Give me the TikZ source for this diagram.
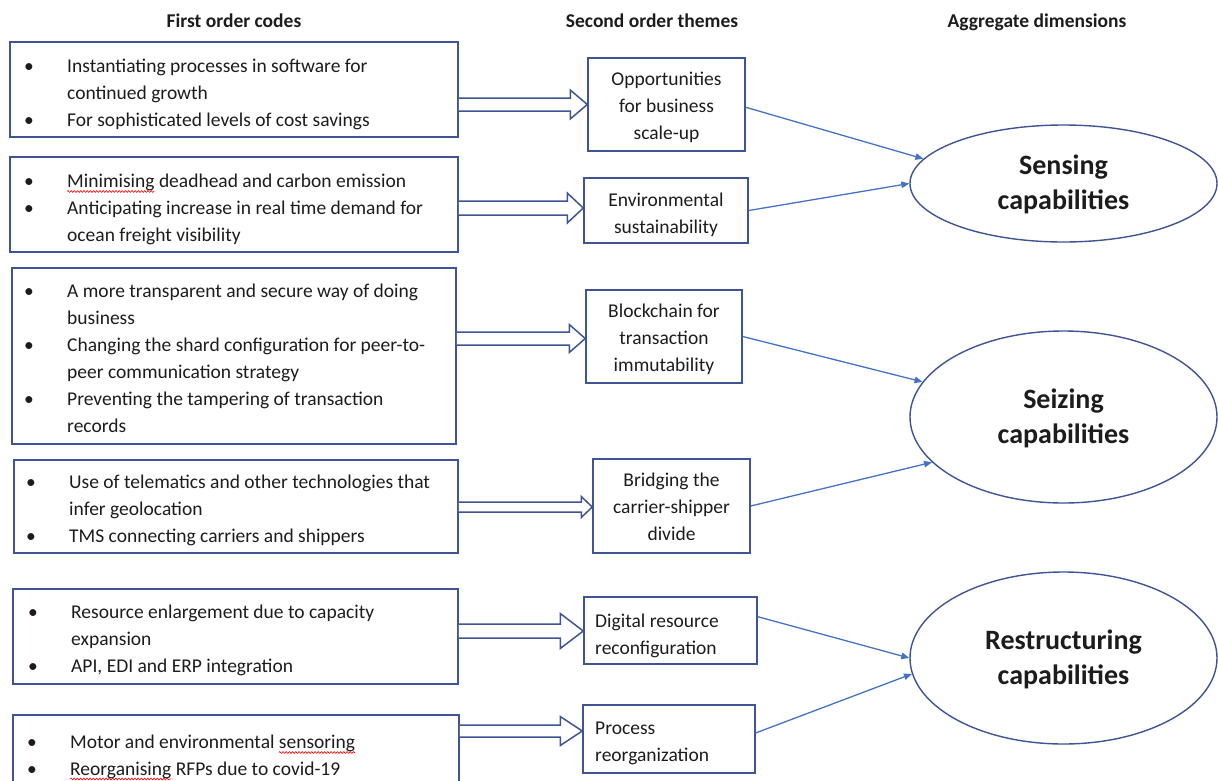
\documentclass[tikz,border=0pt]{standalone}
\usepackage{fontspec}
\setmainfont{Carlito}
\usetikzlibrary{shapes.geometric,calc,arrows.meta,decorations.pathmorphing}
\definecolor{boxc}{RGB}{62,84,150}
\definecolor{arrc}{RGB}{68,114,196}
\definecolor{txtc}{RGB}{28,28,28}
\newcommand\bodyfont{\fontsize{19.5}{27}\selectfont}
\newcommand\bul[1]{\makebox[43pt][l]{\textbullet}#1}
\newcommand\cont[1]{\hspace*{43pt}#1}
\newlength\wavea
\newlength\waveb
\newlength\wavec
\newlength\waved
\newcommand\hollow[6]{%
  \coordinate (#1#2y) at (0,#3);
  \coordinate (#1#2s) at (#1.east |- #1#2y);
  \coordinate (#1#2e) at (#2.west |- #1#2y);
  \draw[harrow] ($(#1#2s)+(0,-#4)$) -- ($(#1#2e)+(-#6,-#4)$) -- ($(#1#2e)+(-#6,-#5)$)
    -- (#1#2e) -- ($(#1#2e)+(-#6,#5)$) -- ($(#1#2e)+(-#6,#4)$) -- ($(#1#2s)+(0,#4)$);
}
\begin{document}
\settowidth{\wavea}{\bodyfont Minimising}
\settowidth{\waveb}{\bodyfont Motor and environmental\ }
\settowidth{\wavec}{\bodyfont sensoring}
\settowidth{\waved}{\bodyfont Reorganising}
\begin{tikzpicture}[x=1pt,y=-1pt,
  cbox/.style={draw=boxc,line width=1.5pt,rectangle,inner sep=0pt,fill=none},
  btext/.style={inner sep=0pt,font=\bodyfont,text=txtc},
  ttext/.style={inner sep=0pt,font=\bodyfont,text=txtc},
  htext/.style={inner sep=0pt,font=\fontsize{19.5}{24}\selectfont\bfseries,text=txtc},
  capell/.style={draw=boxc,line width=1.4pt,ellipse,inner sep=0pt,minimum width=307pt,
     font=\fontsize{28}{35}\selectfont\bfseries,text=txtc},
  harrow/.style={draw=boxc,line width=1.5pt,line join=miter,fill=white},
  conn/.style={draw=arrc,line width=1.3pt,-{Triangle[length=8pt,width=6.5pt]}},
  spell/.style={draw=red,line width=0.6pt,decorate,decoration={snake,amplitude=0.9pt,segment length=3.2pt}}
]
\useasboundingbox (0,0) rectangle (1218,780);

% headers
\node[htext,anchor=base] (h1) at (234,27) {First order codes};
\node[htext,anchor=base] (h2) at (652,27) {Second order themes};
\node[htext,anchor=base] (h3) at (1037,27) {Aggregate dimensions};

% first order boxes
\node[cbox,minimum width=448pt,minimum height=95pt] (b1) at (234,89.5) {};
\node[cbox,minimum width=448pt,minimum height=95pt] (b2) at (234,204.5) {};
\node[cbox,minimum width=444pt,minimum height=176pt] (b3) at (234,356) {};
\node[cbox,minimum width=444pt,minimum height=93pt] (b4) at (236,506.5) {};
\node[cbox,minimum width=445pt,minimum height=95pt] (b5) at (235.5,636.5) {};
\node[cbox,minimum width=446pt,minimum height=95pt] (b6) at (236,762.5) {};

\node[btext,anchor=base west] (b1t) at (24,72) {\parbox[t]{500pt}{\raggedright
  \bul{Instantiating processes in software for}\\
  \cont{continued growth}\\
  \bul{For sophisticated levels of cost savings}}};
\node[btext,anchor=base west] (b2t) at (24,187) {\parbox[t]{500pt}{\raggedright
  \bul{Minimising deadhead and carbon emission}\\
  \bul{Anticipating increase in real time demand for}\\
  \cont{ocean freight visibility}}};
\node[btext,anchor=base west] (b3t) at (24,297) {\parbox[t]{500pt}{\raggedright
  \bul{A more transparent and secure way of doing}\\
  \cont{business}\\
  \bul{Changing the shard configuration for peer-to-}\\
  \cont{peer communication strategy}\\
  \bul{Preventing the tampering of transaction}\\
  \cont{records}}};
\node[btext,anchor=base west] (b4t) at (26,488) {\parbox[t]{500pt}{\raggedright
  \bul{Use of telematics and other technologies that}\\
  \cont{infer geolocation}\\
  \bul{TMS connecting carriers and shippers}}};
\node[btext,anchor=base west] (b5t) at (28,618) {\parbox[t]{500pt}{\raggedright
  \bul{Resource enlargement due to capacity}\\
  \cont{expansion}\\
  \bul{API, EDI and ERP integration}}};
\node[btext,anchor=base west] (b6t) at (27,748) {\parbox[t]{500pt}{\raggedright
  \bul{Motor and environmental sensoring}\\
  \bul{Reorganising RFPs due to covid-19}}};

% spelling marks
\draw[spell] (67,191.5) -- ++(\wavea,0);
\draw[spell] ($(70,752.5)+(\waveb,0)$) -- ++(\wavec,0);
\draw[spell] (70,779) -- ++(\waved,0);

% second order themes
\node[cbox,minimum width=157pt,minimum height=93pt] (t1) at (666.5,104.5) {};
\node[cbox,minimum width=164pt,minimum height=65pt] (t2) at (666,210.5) {};
\node[cbox,minimum width=156pt,minimum height=93pt] (t3) at (664,336.5) {};
\node[cbox,minimum width=157pt,minimum height=94pt] (t4) at (671.5,506) {};
\node[cbox,minimum width=173pt,minimum height=67pt] (t5) at (670.5,630.5) {};
\node[cbox,minimum width=172pt,minimum height=68pt] (t6) at (669,739) {};

\node[ttext,anchor=base] (t1t) at (666.5,85) {\parbox[t]{170pt}{\centering Opportunities\\for business\\scale-up}};
\node[ttext,anchor=base] (t2t) at (666,206) {\parbox[t]{170pt}{\centering Environmental\\sustainability}};
\node[ttext,anchor=base] (t3t) at (664,317) {\parbox[t]{170pt}{\centering Blockchain for\\transaction\\immutability}};
\node[ttext,anchor=base] (t4t) at (671.5,486) {\parbox[t]{170pt}{\centering Bridging the\\carrier-shipper\\divide}};
\node[ttext,anchor=base west] (t5t) at (595,627) {\parbox[t]{170pt}{\raggedright Digital resource\\reconfiguration}};
\node[ttext,anchor=base west] (t6t) at (595,734) {\parbox[t]{170pt}{\raggedright Process\\reorganization}};

% aggregate dimensions
\node[capell,minimum height=117pt] (sens) at (1063.5,183.5) {\raisebox{9pt}[0pt][0pt]{\parbox[t]{200pt}{\centering Sensing\\capabilities}}};
\node[capell,minimum height=172pt] (seiz) at (1063.5,417) {\raisebox{9pt}[0pt][0pt]{\parbox[t]{200pt}{\centering Seizing\\capabilities}}};
\node[capell,minimum height=172pt] (rest) at (1063.5,658) {\raisebox{9pt}[0pt][0pt]{\parbox[t]{200pt}{\centering Restructuring\\capabilities}}};

% hollow arrows
\hollow{b1}{t1}{104.5}{6.5}{14.5}{17}
\hollow{b2}{t2}{208}{7}{15}{16}
\hollow{b3}{t3}{338.5}{6.5}{14}{16}
\hollow{b4}{t4}{507}{5}{10.5}{11}
\hollow{b5}{t5}{631}{7}{17.5}{23}
\hollow{b6}{t6}{731}{6}{14.5}{22}

% connectors
\draw[conn] (t1.-2) -- (sens.170);
\draw[conn] (t2.east) -- (sens.180);
\draw[conn] (t3.east) -- (seiz.166);
\draw[conn] (t4.east) -- (seiz.199);
\draw[conn] (t5.9) -- (rest.180);
\draw[conn] (t6.4) -- (rest.186);
\end{tikzpicture}
\end{document}
